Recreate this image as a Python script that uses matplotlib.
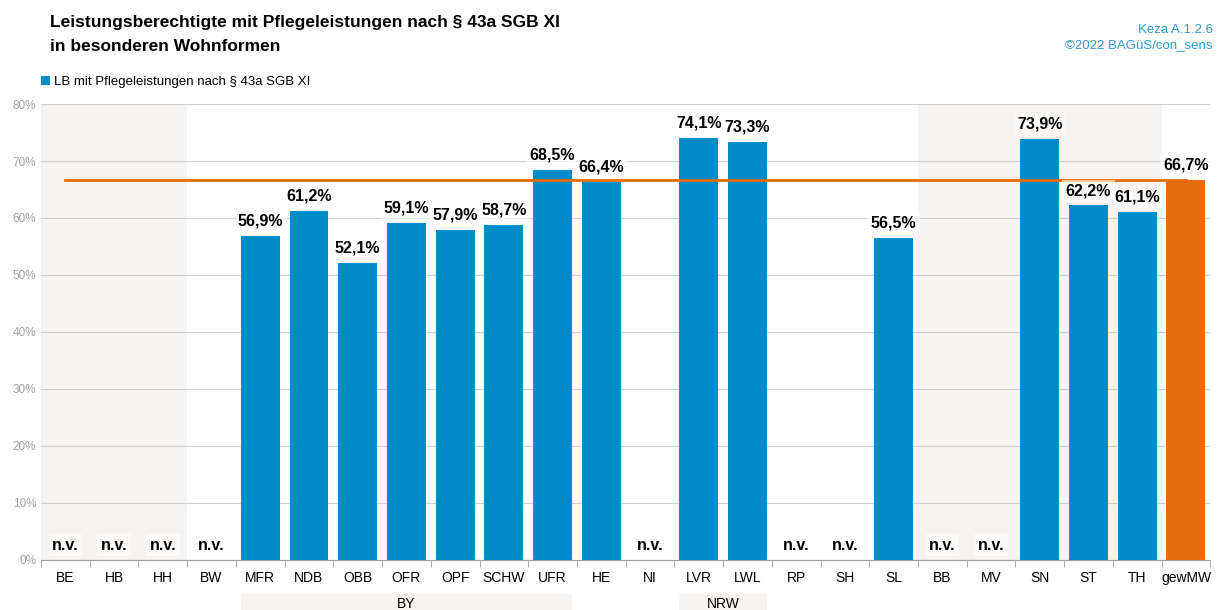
import numpy as np
import matplotlib
matplotlib.use("Agg")
import matplotlib.pyplot as plt
from matplotlib.patches import Rectangle

plt.rcParams['font.family'] = ['Liberation Sans Narrow', 'Liberation Sans', 'DejaVu Sans']

regions = ["BE", "HB", "HH", "BW", "MFR", "NDB", "OBB", "OFR", "OPF", "SCHW", "UFR", "HE",
           "NI", "LVR", "LWL", "RP", "SH", "SL", "BB", "MV", "SN", "ST", "TH", "gewMW"]
values = [np.nan, np.nan, np.nan, np.nan, 56.9, 61.2, 52.1, 59.1, 57.9, 58.7, 68.5, 66.4,
          np.nan, 74.1, 73.3, np.nan, np.nan, 56.5, np.nan, np.nan, 73.9, 62.2, 61.1, 66.7]
mean_value = 66.7
shaded_ranges = [(0, 2), (18, 22)]
groups = [("BY", 4, 10), ("NRW", 13, 14)]

blue = "#008cc8"
orange = "#e46c0a"
shade = "#f6f3f0"

fig = plt.figure(figsize=(12.25, 6.1), dpi=100)
ax = fig.add_axes([0.0335, 0.082, 0.9545, 0.7475])

x = np.arange(len(regions))
ax.set_xlim(-0.5, len(regions) - 0.5)
ax.set_ylim(0, 80)

for a, b in shaded_ranges:
    ax.axvspan(a - 0.5, b + 0.5, color=shade, zorder=0, lw=0)

ax.set_yticks(np.arange(0, 81, 10))
ax.set_yticklabels([f"{v}%" for v in range(0, 81, 10)], color="#a0a0a0", fontsize=8.5)
ax.yaxis.grid(True, color="#d0d0d0", lw=0.8, zorder=1)
ax.set_axisbelow(True)

colors = [orange if r == "gewMW" else blue for r in regions]
vals = np.nan_to_num(values, nan=0.0)
ax.bar(x, vals, width=0.8, color=colors, zorder=3, label="LB mit Pflegeleistungen nach § 43a SGB XI")

ax.plot([0, len(regions) - 1], [mean_value, mean_value], color=orange, lw=2, zorder=4)

for i, v in enumerate(values):
    if np.isnan(v):
        txt, y = "n.v.", 1.3
    else:
        txt, y = f"{v:.1f}%".replace(".", ","), v + 1.3
    ax.text(i, y, txt, ha="center", va="bottom", fontsize=11.5, fontweight="bold", zorder=5,
            bbox=dict(facecolor="white", edgecolor="none", alpha=0.6, pad=2.5))

ax.set_xticks(x)
ax.set_xticklabels(regions, fontsize=10)
ax.set_xticks(np.arange(-0.5, len(regions)), minor=True)
ax.tick_params(axis="x", which="major", length=0, pad=8)
ax.tick_params(axis="x", which="minor", length=5, color="#a0a0a0")
ax.tick_params(axis="y", length=0)
for s in ["top", "right", "left"]:
    ax.spines[s].set_visible(False)
ax.spines["bottom"].set_color("#a0a0a0")

# Gruppenbeschriftungen unter der Achse
for name, a, b in groups:
    ax.add_patch(Rectangle((a - 0.4, -6.0), b - a + 0.8, -4, transform=ax.transData,
                           facecolor=shade, edgecolor="none", clip_on=False))
    ax.text((a + b) / 2, -7.8, name, ha="center", va="center", fontsize=10)

ax.legend(loc="lower left", bbox_to_anchor=(0.0, 1.035), frameon=False, fontsize=9.5,
          handlelength=0.7, handleheight=0.7, handletextpad=0.3, borderpad=0, borderaxespad=0)

fig.text(0.041, 0.975, "Leistungsberechtigte mit Pflegeleistungen nach § 43a SGB XI\nin besonderen Wohnformen",
         ha="left", va="top", fontsize=12.5, fontweight="bold", linespacing=1.7)
fig.text(0.99, 0.96, "Keza A.1.2.6\n©2022 BAGüS/con_sens", ha="right", va="top",
         fontsize=9.5, color="#2e9ad0", linespacing=1.3)

fig.savefig("out.png", dpi=100)
